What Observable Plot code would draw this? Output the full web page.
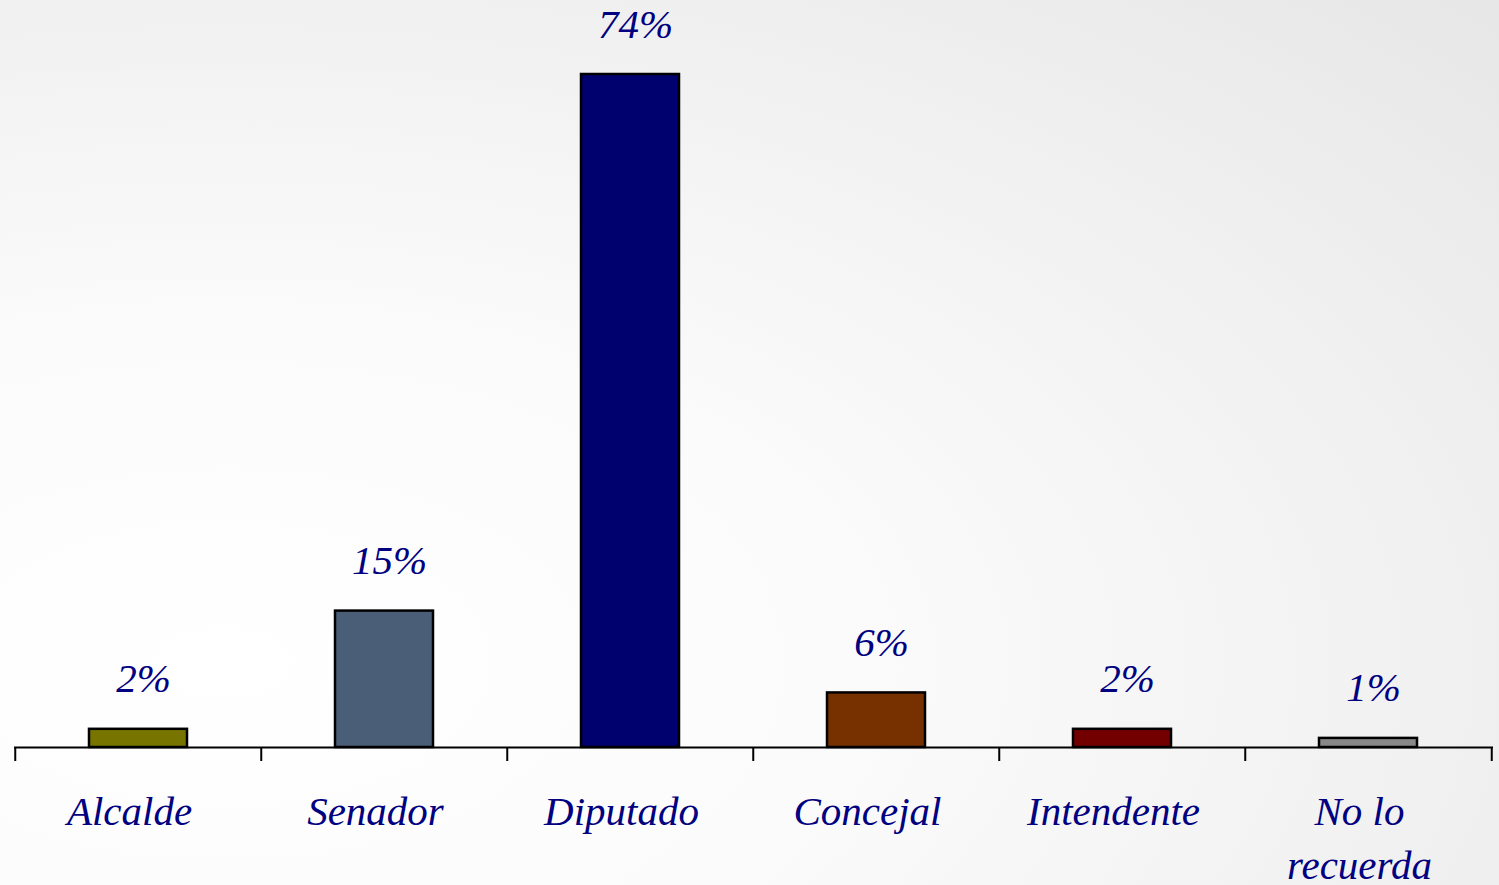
<!DOCTYPE html>
<html>
<head>
<meta charset="utf-8">
<script src="https://cdn.jsdelivr.net/npm/d3@7"></script>
<script src="https://cdn.jsdelivr.net/npm/@observablehq/plot@0.6"></script>
<style>
  html, body { margin: 0; padding: 0; }
  body {
    width: 1499px; height: 885px; overflow: hidden;
    background: radial-gradient(ellipse 120% 110% at 15% 75%, #ffffff 0%, #fbfbfb 35%, #f0f0f0 70%, #e6e6e6 100%);
  }
</style>
</head>
<body>
<div id="chart"></div>
<script>
const categories = ["Alcalde", "Senador", "Diputado", "Concejal", "Intendente", "No lo recuerda"];
const tickLabels = ["Alcalde", "Senador", "Diputado", "Concejal", "Intendente", "No lo\nrecuerda"];
const values = [2, 15, 74, 6, 2, 1];
const valueLabels = ["2%", "15%", "74%", "6%", "2%", "1%"];
const colors = ["#787400", "#4a5e77", "#00006e", "#773000", "#730000", "#888888"];

const data = categories.map((c, i) => ({cat: c, value: values[i], label: valueLabels[i], tick: tickLabels[i]}));

const W = 1499, H = 885;
const mL = 14, mR = 6, mT = 74, mB = 138;
const step = (W - mL - mR) / categories.length;
const textColor = "#000080";
const font = "Liberation Serif, Times New Roman, serif";

const plot = Plot.plot({
  width: W,
  height: H,
  marginLeft: mL,
  marginRight: mR,
  marginTop: mT,
  marginBottom: mB,
  style: {background: "none", fontFamily: font, overflow: "visible"},
  x: {domain: categories, paddingInner: 0.6, paddingOuter: 0.3, axis: null},
  y: {domain: [0, 74], axis: null},
  color: {domain: categories, range: colors},
  marks: [
    Plot.barY(data, {x: "cat", y: "value", fill: "cat", stroke: "#000", strokeWidth: 2.5}),
    Plot.ruleY([0], {stroke: "#000", strokeWidth: 2}),
    Plot.ruleX(categories, {x: d => d, y1: 0, y2: 0, insetBottom: -14, dx: -step / 2, stroke: "#000", strokeWidth: 2}),
    Plot.ruleX(categories.slice(-1), {x: d => d, y1: 0, y2: 0, insetBottom: -14, dx: step / 2, stroke: "#000", strokeWidth: 2}),
    Plot.text(data, {x: "cat", y: "value", text: "label", lineAnchor: "bottom", dy: -37, dx: 5,
      fill: textColor, fontSize: 41, fontStyle: "italic", fontFamily: font}),
    Plot.text(data, {x: "cat", y: () => 0, text: "tick", lineAnchor: "top", dy: 40, dx: -9, lineHeight: 1.3,
      fill: textColor, fontSize: 41, fontStyle: "italic", fontFamily: font})
  ]
});
document.getElementById("chart").appendChild(plot);
</script>
</body>
</html>
